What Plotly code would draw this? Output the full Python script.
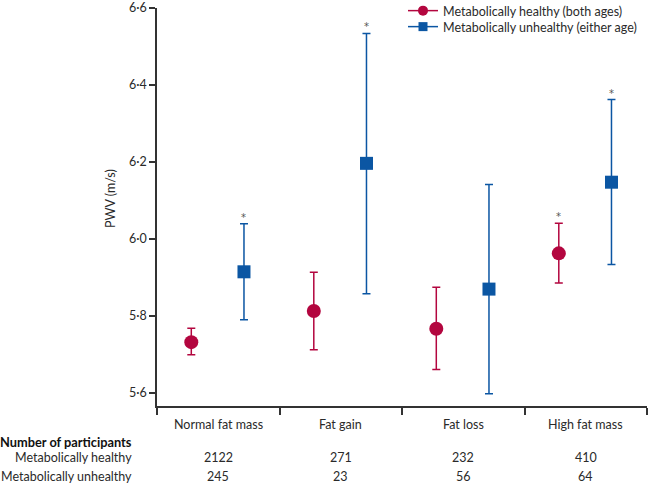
import plotly.graph_objects as go

categories = ["Normal fat mass", "Fat gain", "Fat loss", "High fat mass"]
healthy_mean = [5.731, 5.812, 5.766, 5.962]
healthy_upper = [5.767, 5.913, 5.874, 6.040]
healthy_lower = [5.698, 5.711, 5.660, 5.885]
unhealthy_mean = [5.914, 6.196, 5.869, 6.147]
unhealthy_upper = [6.039, 6.534, 6.141, 6.362]
unhealthy_lower = [5.789, 5.857, 5.597, 5.933]
healthy_star = [False, False, False, True]
unhealthy_star = [True, True, False, True]
n_healthy = ["2122", "271", "232", "410"]
n_unhealthy = ["245", "23", "56", "64"]
ytick_vals = [5.6, 5.8, 6.0, 6.2, 6.4, 6.6]
ytick_text = ["5·6", "5·8", "6·0", "6·2", "6·4", "6·6"]

RED = "#b3063f"
BLUE = "#0b56a3"
TXT = "#2a2a2a"
FONT = "Lato"
FS = 12.5

centers = [i + 0.5 for i in range(len(categories))]
xh = [c - 0.22 for c in centers]
xu = [c + 0.21 for c in centers]

H = 484
plot_top, plot_bot = 8, 406
def py(ypix):
    return (plot_bot - ypix) / (plot_bot - plot_top)
def px(xpix):
    return (xpix - 157) / 490

fig = go.Figure()
fig.add_trace(go.Scatter(
    x=xh, y=healthy_mean, mode="markers", showlegend=False,
    marker=dict(symbol="circle", size=14, color=RED),
    error_y=dict(type="data", symmetric=False,
                 array=[u - m for u, m in zip(healthy_upper, healthy_mean)],
                 arrayminus=[m - l for m, l in zip(healthy_mean, healthy_lower)],
                 color=RED, thickness=1.5, width=4)))
fig.add_trace(go.Scatter(
    x=xu, y=unhealthy_mean, mode="markers", showlegend=False,
    marker=dict(symbol="square", size=13, color=BLUE),
    error_y=dict(type="data", symmetric=False,
                 array=[u - m for u, m in zip(unhealthy_upper, unhealthy_mean)],
                 arrayminus=[m - l for m, l in zip(unhealthy_mean, unhealthy_lower)],
                 color=BLUE, thickness=1.5, width=4)))
# legend entries
fig.add_trace(go.Scatter(x=[None], y=[None], mode="lines+markers",
                         name="Metabolically healthy (both ages)", legend="legend",
                         line=dict(color=RED, width=1.5),
                         marker=dict(symbol="circle", size=10, color=RED)))
fig.add_trace(go.Scatter(x=[None], y=[None], mode="lines+markers",
                         name="Metabolically unhealthy (either age)", legend="legend2",
                         line=dict(color=BLUE, width=1.5),
                         marker=dict(symbol="square", size=9, color=BLUE)))

annotations = []
star_font = dict(size=10, color="#555", family="DejaVu Sans")
for x, up, s in zip(xh, healthy_upper, healthy_star):
    if s:
        annotations.append(dict(x=x, y=up, xref="x", yref="y", text="*", showarrow=False,
                                yanchor="bottom", yshift=-1, font=star_font))
for x, up, s in zip(xu, unhealthy_upper, unhealthy_star):
    if s:
        annotations.append(dict(x=x, y=up, xref="x", yref="y", text="*", showarrow=False,
                                yanchor="bottom", yshift=-1, font=star_font))

# category labels and participant table
row_y = [424, 441.5, 458, 476.5]
for c, lab in zip(centers, categories):
    annotations.append(dict(x=c, y=py(row_y[0]), xref="x", yref="paper", text=lab,
                            showarrow=False, yanchor="middle", xanchor="center",
                            font=dict(size=FS, color=TXT, family=FONT)))
for c, a, b in zip(centers, n_healthy, n_unhealthy):
    annotations.append(dict(x=c, y=py(row_y[2]), xref="x", yref="paper", text=a,
                            showarrow=False, yanchor="middle", xanchor="center",
                            font=dict(size=FS, color=TXT, family=FONT)))
    annotations.append(dict(x=c, y=py(row_y[3]), xref="x", yref="paper", text=b,
                            showarrow=False, yanchor="middle", xanchor="center",
                            font=dict(size=FS, color=TXT, family=FONT)))

x_right = px(134)
annotations.append(dict(x=x_right, y=py(row_y[1]), xref="paper", yref="paper",
                        text="<b>Number of participants</b>", showarrow=False,
                        xanchor="right", yanchor="middle",
                        font=dict(size=FS + 0.3, color="#111", family=FONT)))
annotations.append(dict(x=x_right, y=py(row_y[2]), xref="paper", yref="paper",
                        text="Metabolically healthy", showarrow=False,
                        xanchor="right", yanchor="middle",
                        font=dict(size=FS, color=TXT, family=FONT)))
annotations.append(dict(x=x_right, y=py(row_y[3]), xref="paper", yref="paper",
                        text="Metabolically unhealthy", showarrow=False,
                        xanchor="right", yanchor="middle",
                        font=dict(size=FS, color=TXT, family=FONT)))
annotations.append(dict(x=px(110), y=py(199), xref="paper", yref="paper",
                        text="PWV (m/s)", showarrow=False, textangle=-90,
                        xanchor="center", yanchor="middle",
                        font=dict(size=FS, color=TXT, family=FONT)))

leg_common = dict(xanchor="left", yanchor="middle", bgcolor="rgba(0,0,0,0)",
                  font=dict(size=FS, color=TXT, family=FONT), itemwidth=30)

fig.update_layout(
    width=652, height=484,
    margin=dict(l=157, r=5, t=plot_top, b=H - plot_bot, pad=0, autoexpand=False),
    paper_bgcolor="white", plot_bgcolor="white",
    font=dict(family=FONT, size=FS, color=TXT),
    showlegend=True,
    legend=dict(x=px(403), y=py(11), **leg_common),
    legend2=dict(x=px(403), y=py(27), **leg_common),
    annotations=annotations,
    xaxis=dict(range=[0, 4], showgrid=False, zeroline=False,
               showline=True, linecolor="#333", linewidth=1.5,
               tickmode="array", tickvals=[0, 1, 2, 3, 4], ticktext=["", "", "", "", ""],
               ticks="outside", ticklen=7, tickwidth=1.5, tickcolor="#333"),
    yaxis=dict(range=[5.565, 6.6], showgrid=False, zeroline=False,
               showline=True, linecolor="#333", linewidth=1.5,
               tickmode="array", tickvals=ytick_vals, ticktext=ytick_text,
               ticks="outside", ticklen=6, tickwidth=1.5, tickcolor="#333",
               ticklabeloverflow="allow",
               tickfont=dict(size=FS, color=TXT, family=FONT)),
)

fig.write_html("out.html", config={"displayModeBar": False},
               post_script="document.body.style.margin='0';")
